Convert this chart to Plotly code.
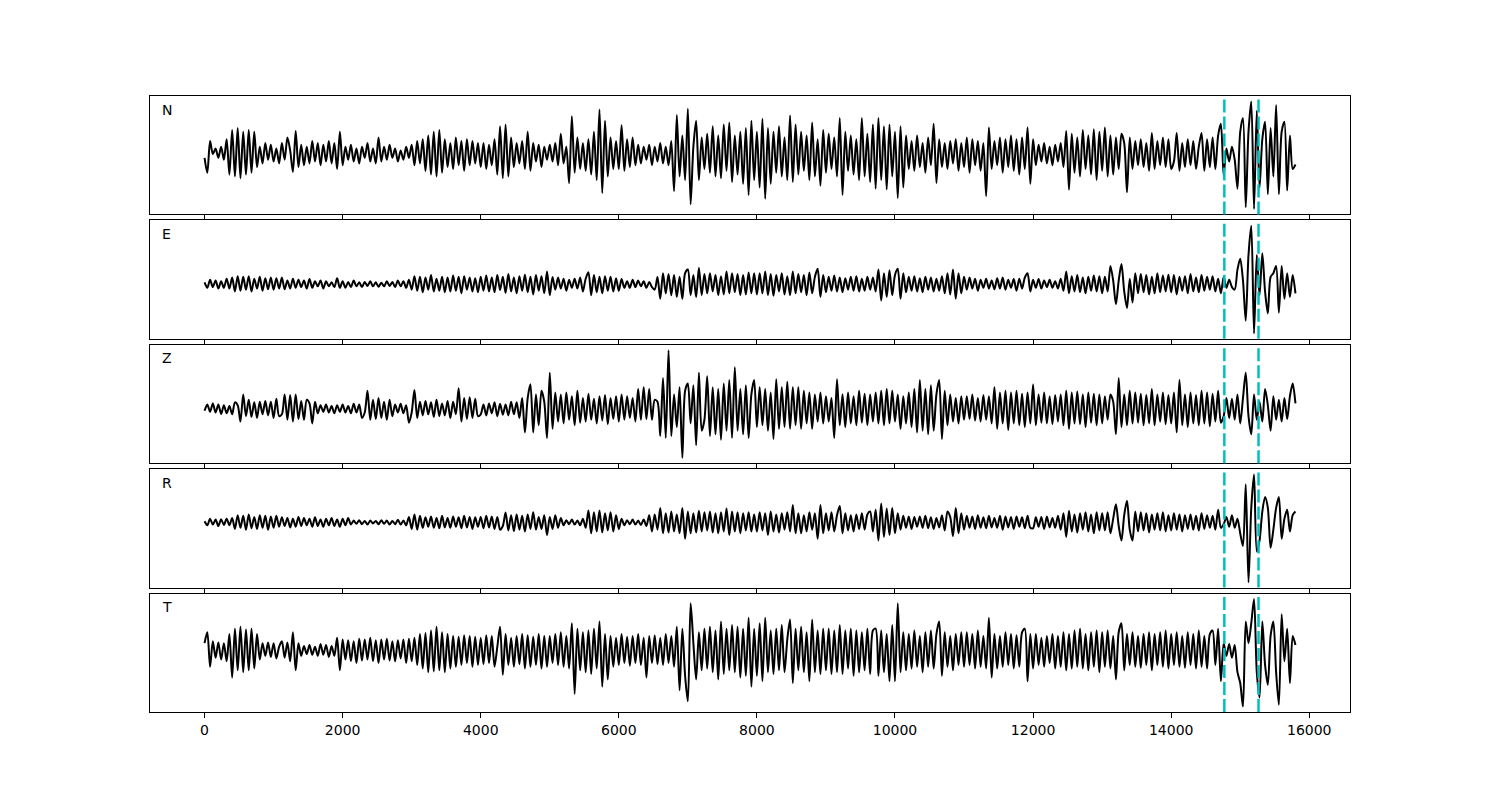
import numpy as np
import plotly.graph_objects as go

# seismogram components, one sample every 40 units
sample_step = 40
channels = ["N", "E", "Z", "R", "T"]
picks = [14770, 15265]
tick_values = [0, 2000, 4000, 6000, 8000, 10000, 12000, 14000, 16000]
tick_labels = ["0", "2000", "4000", "6000", "8000", "10000", "12000", "14000", "16000"]

n_trace = [
    -10, -50, 35, 0, 15, -10, 20, -15, 40, -55, 65, -60, 70, -65, 60, -55, 65, -50, 60, -35, 20, -25, 30, -15, 25,
    -20, 15, -25, 30, -15, 45, 10, -48, 62, -35, 25, -30, 20, -25, 35, -20, 30, -30, 25, -20, 35, -25, 30, -40, 60,
    -30, 20, -15, 25, -20, 15, -25, 20, -10, 30, -20, 15, -25, 45, -20, 20, -15, 25, -10, 15, -20, 10, -15, 20, -10,
    25, -30, 35, -25, 40, -45, 50, -55, 60, -60, 65, -50, 40, -35, 30, -40, 45, -30, 35, -45, 40, -30, 35, -25, 30,
    -35, 30, -40, 25, -30, 40, -55, 75, -65, 80, -60, 45, -35, 30, -25, 35, -40, 60, -45, 30, -20, 25, -35, 20, -15,
    25, -20, 30, -30, 55, -25, 20, -78, 102, -50, 45, -40, 30, -45, 40, -55, 60, -70, 120, -105, 90, -60, 45, -40, 35,
    -40, 78, -45, 40, -35, 45, -30, 25, -25, 20, -15, 25, -30, 20, -20, 30, -25, 20, -30, 35, -100, 105, -60, 50, -70,
    122, -135, 20, 90, -70, 45, -40, 55, -50, 75, -60, 50, -65, 80, -45, 85, -75, 50, -55, 60, -80, 70, -110, 90, -70,
    60, -90, 95, -120, 70, -80, 60, -50, 75, -60, 45, -70, 104, -75, 80, -55, 60, -45, 50, -70, 85, -60, 40, -85, 65,
    -50, 55, -40, 45, -60, 97, -110, 60, -45, 50, -55, 40, -70, 97, -60, 55, -75, 80, -93, 97, -70, 75, -95, 80, -60,
    60, -118, 75, -90, 50, -40, 35, -45, 50, -35, 30, -50, 45, -30, 82, -78, 40, -35, 30, -40, 35, -25, 40, -45, 30,
    -35, 45, -50, 40, -30, 35, -45, 30, -113, 72, -40, 35, -30, 45, -50, 40, -35, 50, -45, 40, -55, 45, -40, 72, -80,
    40, -30, 25, -20, 30, -25, 20, -30, 25, -20, 30, -35, 62, -96, 55, -50, 45, -60, 65, -40, 50, -55, 67, -70, 60,
    -45, 72, -60, 50, -55, 45, -40, 55, 30, -103, 45, -40, 35, -30, 40, -35, 30, -45, 57, -40, 35, -30, 45, -35, 40,
    -40, -20, 57, -45, 30, -35, 40, -30, 35, -40, 20, 57, -45, 40, -35, 45, -40, 50, 82, -58, 15, -20, 20, -15, -93,
    60, 97, -143, 60, 142, -148, 117, -90, 40, 87, -108, 70, -60, 132, -108, 60, 87, -98, 50, -40, -28,
]

e_trace = [
    5, -10, 12, -8, 10, -12, 8, -10, 15, -12, 18, -20, 22, -18, 20, -15, 22, -20, 15, -12, 20, -18, 16, -14, 18,
    -15, 16, -12, 18, -14, 10, -12, 15, -10, 12, -8, 10, -12, 14, -10, 8, -6, 10, -12, 8, -6, 5, -8, 16, -10,
    8, -10, 6, -8, 10, -6, 5, -8, 6, -5, 8, -6, 5, -7, 4, -6, 8, -5, 6, -8, 10, -6, 8, -10, 12,
    -15, 22, -18, 20, -22, 18, -15, 25, -20, 15, -18, 20, -22, 18, -20, 24, -18, 20, -25, 22, -15, 18, -20, 16, -22,
    20, -18, 24, -20, 18, -22, 25, -16, 20, -24, 28, -20, 18, -25, 22, -18, 26, -22, 20, -28, 25, -18, 22, -25, 35,
    -30, 20, -15, 18, -12, 15, -18, 12, -10, 15, -12, 18, -20, 15, 33, -30, 25, -22, 20, -25, 22, -18, 20, -20, 16,
    -18, 14, -10, 8, -10, 12, -8, 10, -6, 8, -10, 6, -8, -15, 20, -40, 30, -25, 28, -30, 25, -35, 20, -40, 30,
    40, -30, 25, -35, 45, -30, 28, -25, 30, -20, 25, -30, 22, -28, 35, -25, 30, -22, 28, -30, 25, -28, 32, -25, 30,
    -28, 30, -25, 35, -30, 28, -32, 25, -20, 30, -28, 22, -30, 35, -25, 28, -22, 25, -30, 32, -25, 20, 42, -35, 25,
    -22, 20, -18, 24, -20, 18, -22, 16, -15, 20, -18, 22, -20, 15, -18, 20, -15, 18, -20, 40, -45, 30, -35, 38, -30,
    25, 42, -40, 30, -22, 20, -18, 22, -20, 16, -22, 20, -15, 18, -20, 15, -18, 22, -25, 30, -28, 40, -40, 30, -25,
    20, -15, 18, -12, 15, -18, 12, -10, 15, -12, 10, -14, 16, -12, 18, -15, 12, -10, 14, -18, 15, -12, 18, 30, -20,
    12, -10, 14, -12, 10, -8, 12, -10, 8, -12, 15, -18, 35, -25, 22, -20, 25, -22, 18, -25, 20, -18, 24, -20, 22,
    -25, 20, -20, 50, 10, -55, 10, 55, -20, -65, 15, -50, 30, -25, 28, -22, 25, -28, 20, -25, 30, -22, 24, -20, 26,
    -22, 25, -28, 20, -18, 22, -25, 28, -20, 18, -22, 25, -18, 20, -15, 22, -20, 15, -25, 20, -10, 12, -8, -15, 40,
    70, 10, -100, 80, 160, -135, 80, -30, 85, -20, -80, 20, 30, 50, -78, 50, -40, 30, -35, 25, -25,
]

z_trace = [
    -5, 12, -8, 15, -10, 12, -14, 10, -12, 8, -15, 18, 10, -35, 40, -20, 25, -22, 18, -25, 20, -15, 22, -18, 20,
    -25, 28, -20, -15, 40, -30, 38, -35, 40, -28, 22, -30, 25, 15, -40, 20, -12, 10, -8, 12, -10, 8, -12, 10, -8,
    12, -10, 8, -12, 14, -10, 12, -25, -10, 50, -30, 25, -28, 30, -25, 20, -30, 25, -20, 12, -10, 14, -12, 10, -38,
    -10, 52, -25, 20, -18, 22, -15, 18, -22, 25, -20, 15, -18, 22, -25, 20, -15, 57, -35, 30, -28, 32, -25, 28, -20,
    -15, 12, -18, 15, -12, 18, -20, 14, -16, 12, -18, 20, -15, 18, -25, 30, -65, 30, 68, -65, 40, -45, 50, 20, -80,
    100, -55, 45, -35, 40, -40, 45, -30, 35, -45, 50, -38, 30, -35, 42, -30, 28, -40, 35, -32, 38, -42, 30, -28, 35,
    -35, 40, -30, 35, -25, 30, -35, 55, -30, 60, -28, 55, -30, 25, 20, -75, 85, -80, 162, -75, 40, -50, 60, -135, 50,
    70, -40, 65, -100, 100, -60, -30, 90, -75, 60, -70, 55, -85, 70, -60, 80, -80, 115, -60, 55, -70, 65, -80, 40, 80,
    -50, 60, -45, 55, -60, 45, -83, 82, -55, 60, -50, 75, -55, 60, -45, 60, -55, 50, -40, 45, -55, 40, -35, 45, -40,
    35, -35, 30, -80, 82, -45, 40, -50, 45, -40, 35, -45, 50, -38, 42, -45, 40, -35, 45, -40, 50, -45, 55, -40, 50,
    -35, 40, -55, 35, -40, 45, -50, 55, -65, 80, -60, 55, -70, 65, -60, 40, 80, -83, 50, -45, 40, -35, 30, -40, 35,
    -30, 35, -28, 40, -32, 30, -35, 38, -30, 35, -40, 60, -55, 45, -40, 50, -58, 45, -40, 50, -45, 42, -50, 45, -40,
    67, -45, 40, -38, 45, -40, 35, -42, 38, -35, 40, -45, 50, -55, 45, -40, 48, -42, 40, -50, 45, -38, 42, -45, 40,
    -40, 35, -30, 40, 20, -70, 85, -50, 40, -45, 50, -40, 45, -38, 42, -45, 38, -40, 55, -45, 40, -35, 45, -42, 38,
    -40, 45, -65, 80, -45, 40, -50, 45, -40, 38, -45, 50, -40, 45, -48, 42, -35, 50, -38, -20, 30, -25, 28, -30, 40,
    -40, 30, 100, -20, -70, 40, -30, 20, -35, 55, 10, -60, 35, -30, 25, -35, 30, -28, 35, 70, 15,
]

r_trace = [
    3, -8, 10, -6, 8, -10, 9, -7, 10, -8, 12, -18, 20, -15, 18, -20, 22, -16, 15, -18, 20, -15, 18, -20, 16,
    -15, 18, -12, 14, -10, 12, -14, 10, -12, 15, -10, 12, -8, 10, -12, 14, -10, 8, -12, 10, -8, 12, -10, 8, -12,
    10, -8, 12, -6, 5, -4, 6, -5, 4, -6, 5, -3, 4, -5, 6, -4, 5, -6, 4, -5, 7, -6, 5, -8, 15,
    -18, 22, -20, 18, -15, 14, -12, 16, -15, 12, -16, 18, -14, 12, -15, 16, -12, 14, -16, 18, -14, 15, -18, 14, -12,
    15, -16, 18, -14, 16, -18, 15, -20, -10, 27, -22, 20, -24, 22, -20, 18, -25, 22, -18, 28, -20, 15, -18, 20, -35,
    15, -18, 20, -15, 12, -8, 6, -5, 8, -6, 5, -8, 10, -15, 33, -30, 28, -25, 33, -28, 25, -22, 28, -25, 20,
    -18, 10, -8, 6, -5, 8, -6, 5, -7, 8, -10, 20, -25, 22, -20, 40, -30, 25, -28, 30, -25, 22, -30, 40, -45,
    30, -30, 25, -28, 32, -25, 28, -22, 30, -28, 25, -30, 28, -25, 38, -35, 30, -25, 28, -30, 25, -22, 28, -25, 22,
    -25, 28, -22, 25, -35, 30, -25, 22, -28, 25, -20, 28, -25, 48, -30, 25, -30, 20, -25, 28, -20, 25, -45, 48, -30,
    25, -22, 28, -25, 20, 45, -30, 25, -22, 20, -25, 22, -18, 25, -20, 22, 30, -25, 35, -50, 52, -40, 38, -35, 40,
    -30, 25, -20, 18, -15, 16, -18, 15, -12, 16, -15, 18, -16, 14, -18, 12, -14, 20, -22, 30, 15, -38, 40, -30, 25,
    -20, 18, -15, 16, -18, 20, -15, 14, -16, 18, -14, 12, -15, 18, -20, 16, -14, 15, -18, 16, -12, 14, -16, 18, -15,
    -16, 14, -12, 15, -18, 16, -14, 12, -15, 18, -20, 25, -40, 32, -25, 22, -28, 25, -20, 28, -25, 22, -30, 28, -22,
    25, -22, 28, -30, 10, 50, -10, -50, 20, 60, -20, -50, 30, -25, 28, -22, 25, -28, 22, -20, 25, -22, 28, -25, 20,
    -22, 25, -20, 22, -25, 20, -18, 22, -20, 18, -22, 25, -18, 20, -15, 18, -20, 35, -15, -5, 15, -12, 20, -15, 10,
    -30, -65, 105, -165, 40, 132, -80, -50, 30, 70, 40, -70, -20, 40, 70, -45, 10, 35, -25, 20, 30,
]

t_trace = [
    20, 50, -45, 25, -20, 22, -25, 20, -30, 45, -75, 60, -55, 65, -60, 58, -55, 60, -50, 45, -25, 20, -15, 22, -18,
    20, -22, 10, 25, -20, 22, -30, 50, -55, 20, -15, 12, -10, 15, -12, 10, -15, 18, -12, 15, -18, 12, -15, 35, -55,
    30, -25, 28, -30, 25, -35, 32, -28, 30, -25, 35, -30, 28, -35, 30, -25, 32, -28, 25, -30, 28, -22, 30, -35, 32,
    -30, 35, -40, 45, -50, 48, -60, 55, -58, 65, -55, 50, -60, 45, -50, 40, -45, 38, -40, 42, -35, 40, -45, 38, -40,
    35, -38, 42, -35, 40, -45, 10, 65, -67, 45, -40, 35, -45, 40, -38, 45, -50, 42, -45, 38, -40, 45, -50, 40, -45,
    40, -35, 45, -40, 50, -45, 40, -50, 75, -120, 60, -55, 50, -60, 55, -65, 60, -50, 80, -100, 45, -80, 40, -45, 35,
    -40, 45, -35, 38, -42, 40, -35, 45, -40, 35, -75, 40, -35, 42, -38, 35, -40, 45, -35, 40, -45, 65, -110, 60, -70,
    -140, 130, 20, -80, 50, -55, 60, -50, 65, -60, 55, -80, 80, -65, 60, -55, 70, -60, 65, -75, 60, -70, 90, -100, 60,
    -70, 75, -85, 90, -60, 55, -65, 60, -55, 70, -60, 30, 85, -90, 60, -55, 65, -60, 50, -85, 85, -60, 55, -65, 60,
    -55, 60, -65, 55, -60, 70, -65, 55, -50, 60, -70, 55, -60, 50, -55, 60, -65, 55, 60, -70, 55, -60, 45, -85, 70,
    -85, 130, -60, 50, -55, 45, -50, 55, -45, 40, -60, 50, -45, 55, -50, 45, 80, -70, 50, -45, 40, -55, 45, -40, 50,
    -45, 50, -40, 45, -50, 55, -45, 40, -50, 90, -75, 45, -50, 40, -45, 50, -40, 45, -50, 42, -45, 50, 60, -85, 45,
    -50, 45, -40, 35, -45, 40, -35, 45, -50, 40, -45, 50, -55, 45, -50, 55, -45, 60, -50, 45, -55, 50, -45, 55, -60,
    50, -45, 55, -50, 40, -80, 50, 75, -55, 45, -40, 50, -45, 40, -48, 45, -40, 50, -55, 45, -40, 50, -45, 55, -50,
    45, -40, 50, -45, 40, -48, 50, -40, 45, -50, 55, -45, 40, -50, 45, 55, -40, 60, -85, 20, -15, 18, -20, 15, -60,
    -90, -155, 80, 20, 75, 142, -60, -130, 80, -40, -95, 40, 80, -60, -150, 100, -30, 60, -90, 40, 15,
]

traces = [n_trace, e_trace, z_trace, r_trace, t_trace]

W, H = 1500, 800
off = 8  # page margin around the plot div, in px

fig = go.Figure()

# matplotlib-like subplot grid, in page pixels
left_px, right_px, top_px, bottom_px = 150, 1350, 96, 712
hspace = 0.05
h_px = (bottom_px - top_px) / (len(traces) + (len(traces) - 1) * hspace)
x_dom = [(left_px - off) / W, (right_px - off) / W]

for i, (name, vals) in enumerate(zip(channels, traces)):
    k = "" if i == 0 else str(i + 1)
    x = np.arange(len(vals)) * sample_step

    fig.add_trace(go.Scatter(
        x=x, y=vals, mode="lines",
        line=dict(color="black", width=2, shape="spline", smoothing=0.8),
        xaxis="x" + k, yaxis="y" + k, hoverinfo="skip", showlegend=False
    ))

    p_top = top_px + i * h_px * (1 + hspace) - off
    y1 = 1 - p_top / H
    y0 = 1 - (p_top + h_px) / H
    lo, hi = min(vals), max(vals)
    ypad = 0.05 * (hi - lo)
    xpad = 0.05 * x[-1]

    fig.update_layout({
        "xaxis" + k: dict(domain=x_dom, anchor="y" + k, range=[-xpad, x[-1] + xpad],
                          tickvals=tick_values, ticktext=tick_labels, ticks="outside",
                          ticklen=5, tickwidth=1, tickcolor="black",
                          showticklabels=(i == len(traces) - 1),
                          showline=True, mirror=True, linecolor="black", linewidth=1,
                          showgrid=False, zeroline=False,
                          tickfont=dict(family="DejaVu Sans", size=14, color="black")),
        "yaxis" + k: dict(domain=[y0, y1], anchor="x" + k, range=[lo - ypad, hi + ypad],
                          showticklabels=False, ticks="", showline=True, mirror=True,
                          linecolor="black", linewidth=1, showgrid=False, zeroline=False),
    })

    for p in picks:
        fig.add_shape(type="line", xref="x" + k, yref=f"y{k} domain",
                      x0=p, x1=p, y0=0, y1=1,
                      line=dict(color="#00bfbf", width=2.5, dash="13px,4px"))

    fig.add_annotation(text=name, xref=f"x{k} domain", yref=f"y{k} domain",
                       x=0.008, y=0.97, xanchor="left", yanchor="top", showarrow=False,
                       font=dict(family="DejaVu Sans", size=14, color="black"))

fig.update_layout(width=W, height=H, margin=dict(t=0, l=0, b=0, r=0),
                  paper_bgcolor="white", plot_bgcolor="white")

fig.write_html("out.html")
